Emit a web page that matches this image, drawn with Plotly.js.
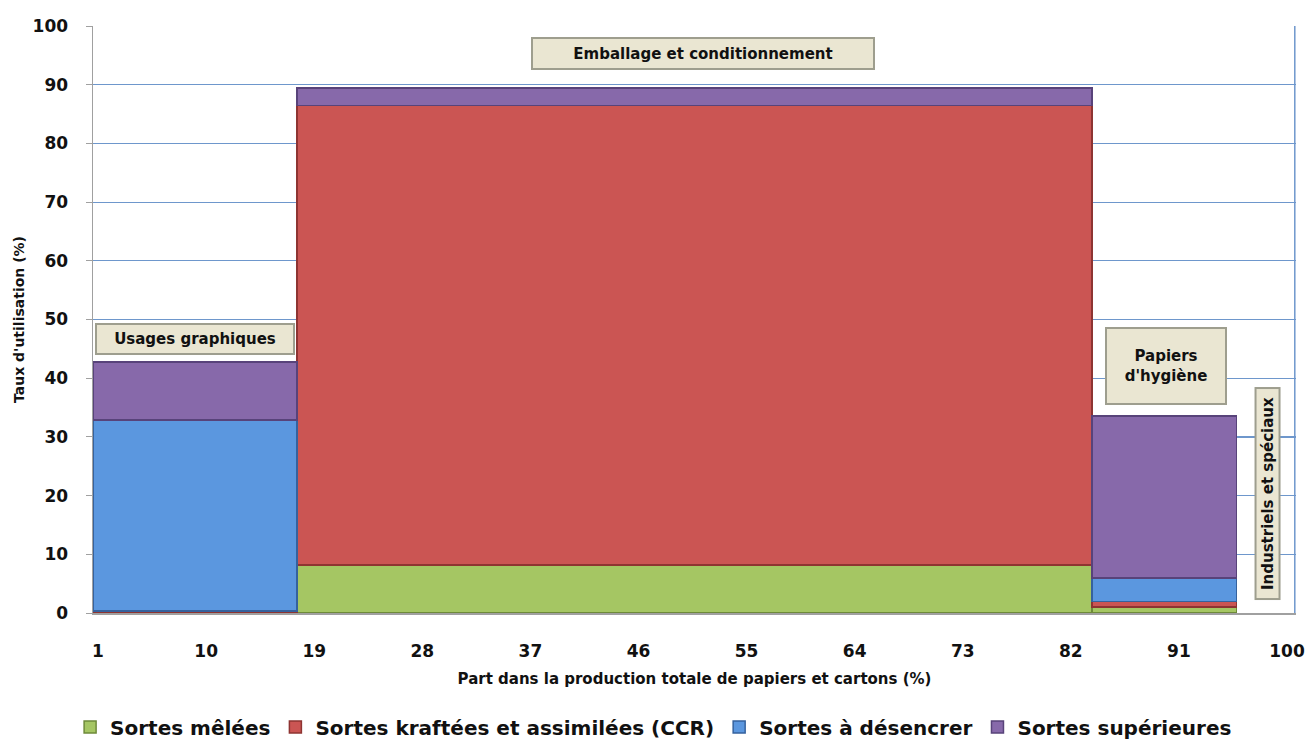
<!DOCTYPE html>
<html>
<head>
<meta charset="utf-8">
<script src="https://cdn.plot.ly/plotly-3.0.1.min.js"></script>
<style>html,body{margin:0;padding:0;background:#fff;}#chart{width:1309px;height:740px;}</style>
</head>
<body>
<div id="chart"></div>
<script>
// Categories (sectors) and their share of total production (% , bar widths)
const categories = ["Usages graphiques", "Emballage et conditionnement", "Papiers d'hygiène", "Industriels et spéciaux"];
const shares = [17.0, 66.2, 12.0, 4.8];
const axisStart = 0.58;
const axisEnd = 100.75;

// Utilisation rates (%) per fibre grade, stacked (no visible bar for "Industriels et spéciaux")
const sortesMelees = [null, 8.2, 1.0, null];
const sortesKraft = [0.3, 78.3, 1.0, null];
const sortesDesencrer = [32.6, null, 4.0, null];
const sortesSuperieures = [9.9, 2.9, 27.6, null];

const seriesNames = ["Sortes mêlées", "Sortes kraftées et assimilées (CCR)", "Sortes à désencrer", "Sortes supérieures"];
const xTickVals = [1, 10, 19, 28, 37, 46, 55, 64, 73, 82, 91, 100];
const yTickVals = [0, 10, 20, 30, 40, 50, 60, 70, 80, 90, 100];

// Build bar centres from cumulative shares
const centers = [];
let acc = axisStart;
shares.forEach(s => { centers.push(acc + s / 2); acc += s; });

const FONT = "DejaVu Sans, sans-serif";
const colors = ["#A5C663", "#CB5553", "#5B97DF", "#8769AA"];
const lineColors = ["#6E8A3A", "#8E3432", "#35629E", "#58437A"];
const allSeries = [sortesMelees, sortesKraft, sortesDesencrer, sortesSuperieures];

const traces = allSeries.map((vals, i) => ({
  type: "bar",
  name: seriesNames[i],
  x: centers,
  y: vals,
  width: shares,
  text: categories,
  hoverinfo: "name+y+text",
  textposition: "none",
  marker: { color: colors[i], line: { color: lineColors[i], width: 1.5 } }
}));

const boxFont = { family: FONT, size: 15, color: "#111", weight: "bold" };
const annotations = [
  { x: centers[0], y: 46.7, text: categories[0], width: 196, height: 28 },
  { x: 51.4, y: 95.4, text: categories[1], width: 340, height: 29 },
  { x: 89.9, y: 42.1, text: "Papiers<br>d'hygiène", width: 118, height: 74 },
  { x: 98.4, y: 20.4, text: categories[3], width: 209, height: 22, textangle: -90 }
].map(a => Object.assign({
  xref: "x", yref: "y", showarrow: false,
  bgcolor: "#EAE6D2", bordercolor: "#9E9E8E", borderwidth: 2, borderpad: 0,
  font: boxFont, align: "center", valign: "middle"
}, a));

const layout = {
  width: 1309, height: 740,
  margin: { l: 93, r: 13, t: 26, b: 127, autoexpand: false },
  paper_bgcolor: "#ffffff", plot_bgcolor: "#ffffff",
  barmode: "stack",
  bargap: 0,
  showlegend: true,
  legend: {
    orientation: "h", x: 0.466, xanchor: "center", y: -0.194, yanchor: "middle",
    font: { family: FONT, size: 20, color: "#111", weight: "bold" },
    itemwidth: 30, traceorder: "normal"
  },
  xaxis: {
    range: [axisStart, axisEnd],
    tickmode: "array", tickvals: xTickVals, ticktext: xTickVals.map(String),
    tickfont: { family: FONT, size: 17, color: "#111", weight: "bold" },
    ticks: "", ticklabelstandoff: 22, ticklabeloverflow: "allow",
    showgrid: false, zeroline: false,
    showline: true, linecolor: "#A0A0A0", linewidth: 1.5, mirror: false,
    title: { text: "Part dans la production totale de papiers et cartons (%)", font: { family: FONT, size: 15, color: "#111", weight: "bold" }, standoff: 13 }
  },
  yaxis: {
    range: [0, 100],
    tickmode: "array", tickvals: yTickVals, ticktext: yTickVals.map(String),
    tickfont: { family: FONT, size: 17, color: "#111", weight: "bold" },
    ticks: "outside", ticklen: 6, tickcolor: "#A0A0A0", ticklabelstandoff: 14,
    showgrid: true, gridcolor: "#6E97CC", gridwidth: 1.2,
    zeroline: false,
    showline: true, linecolor: "#A0A0A0", linewidth: 1.5,
    title: { text: "Taux d'utilisation (%)", font: { family: FONT, size: 14, color: "#111", weight: "bold" }, standoff: 4 }
  },
  shapes: [
    { type: "line", xref: "paper", yref: "paper", x0: 0.999, x1: 0.999, y0: 0, y1: 1, layer: "below", line: { color: "#6E97CC", width: 1.5 } }
  ],
  annotations: annotations
};

Plotly.newPlot("chart", traces, layout, { displayModeBar: false, staticPlot: true });
</script>
</body>
</html>
